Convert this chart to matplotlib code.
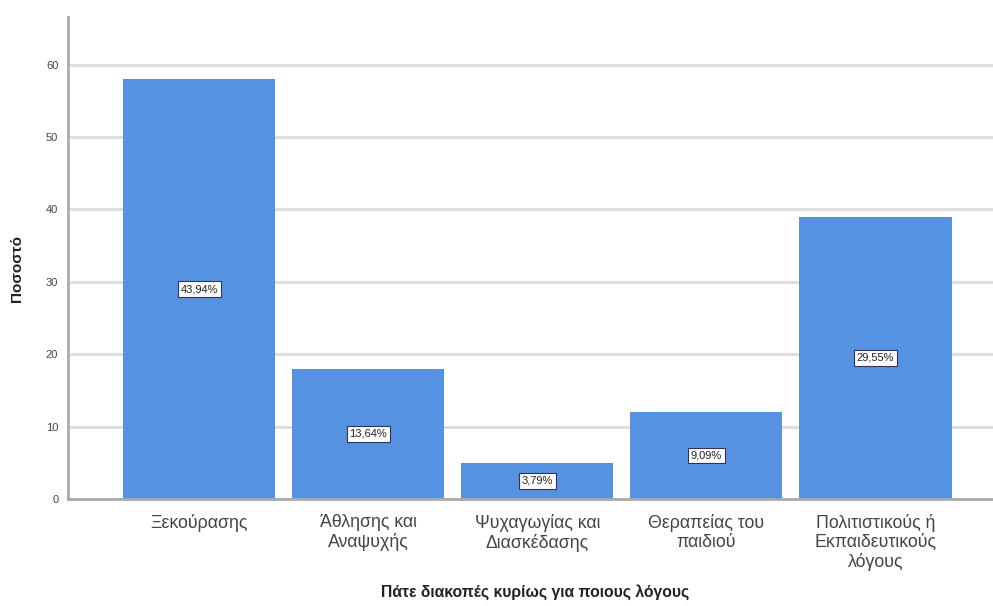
import matplotlib.pyplot as plt

plt.rcParams['font.family'] = ['Liberation Sans', 'DejaVu Sans']

reasons = ['Ξεκούρασης', 'Άθλησης και\nΑναψυχής', 'Ψυχαγωγίας και\nΔιασκέδασης',
           'Θεραπείας του\nπαιδιού', 'Πολιτιστικούς ή\nΕκπαιδευτικούς\nλόγους']
counts = [58, 18, 5, 12, 39]
y_ticks = [0, 10, 20, 30, 40, 50, 60]

total = sum(counts)
pcts = [c / total * 100 for c in counts]

fig = plt.figure(figsize=(9.93, 6.06), dpi=100)
ax = fig.add_axes([0.0685, 0.1766, 0.94, 0.7954])

x = list(range(len(reasons)))
ax.bar(x, counts, width=0.9, color='#5592e2', zorder=3)

for xi, c, p in zip(x, counts, pcts):
    ax.text(xi, c / 2, f'{p:.2f}%'.replace('.', ','), ha='center', va='center',
            fontsize=8, color='#222222', zorder=4,
            bbox=dict(boxstyle='square,pad=0.25', fc='white', ec='#333355', lw=0.8))

ax.set_xlim(-0.775, 4.745)
ax.set_ylim(0, 66.6)
ax.set_yticks(y_ticks)
ax.set_xticks(x)
ax.set_xticklabels(reasons, fontsize=12.8, color='#444444', linespacing=1.12)
ax.tick_params(axis='y', labelsize=8, colors='#444444', length=0, pad=7)
ax.tick_params(axis='x', length=0, pad=11)

ax.grid(axis='y', color='#dddddd', lw=2, zorder=1)
for side in ['top', 'right']:
    ax.spines[side].set_visible(False)
for side in ['left', 'bottom']:
    ax.spines[side].set_color('#aaaaaa')
    ax.spines[side].set_linewidth(2)
    ax.spines[side].set_zorder(5)

ax.set_ylabel('Ποσοστό', fontsize=11, fontweight='bold', color='#222222')
ax.yaxis.set_label_coords(-0.047, 0.479)
ax.set_xlabel('Πάτε διακοπές κυρίως για ποιους λόγους', fontsize=11.3,
              fontweight='bold', color='#222222', labelpad=10)

fig.savefig('out.png', dpi=100)
